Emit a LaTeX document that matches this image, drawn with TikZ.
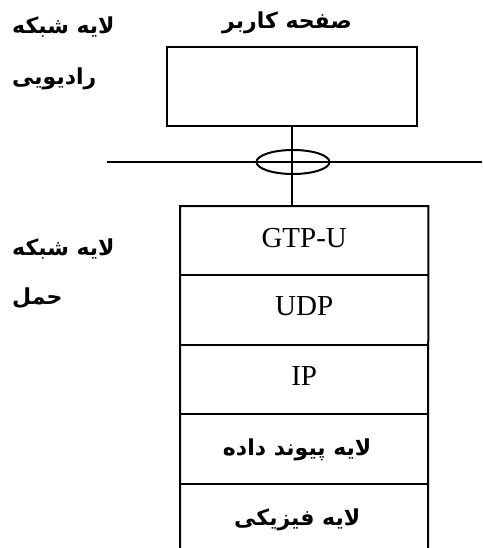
\documentclass[tikz,border=0pt]{standalone}
\usepackage{fontspec}
\setmainfont{Liberation Serif}
\newfontfamily\fa[Script=Arabic]{DejaVu Sans}
\TeXXeTstate=1
\usetikzlibrary{shapes.geometric,calc}
\begin{document}
\begin{tikzpicture}[x=1pt,y=-1pt,
  ln/.style={line width=2pt},
  fatext/.style={font=\fa\bfseries\fontsize{22}{26}\selectfont, inner sep=0pt},
  entext/.style={font=\fontsize{29}{32}\selectfont, inner sep=0pt},
  layer/.style={minimum width=248pt, minimum height=69pt, inner sep=0pt}]
\useasboundingbox (0,0) rectangle (482,548);
% top box
\node[draw, ln, minimum width=250pt, minimum height=79pt, anchor=north west, inner sep=0pt] (up) at (166,46) {};
\node[fatext] (uptitle) at (287,23) {\beginR صفحه کاربر\endR};
% left labels
\node[fatext, anchor=west] (rad1) at (12,27) {\beginR لایه شبکه\endR};
\node[fatext, anchor=west] (rad2) at (12,79) {\beginR رادیویی\endR};
\node[fatext, anchor=west] (tr1) at (12,249) {\beginR لایه شبکه\endR};
\node[fatext, anchor=west] (tr2) at (12,298) {\beginR حمل\endR};
% stack layers
\node[layer, anchor=north west] (r1) at (180,206) {};
\node[layer, anchor=north] (r2) at (r1.south) {};
\node[layer, anchor=north] (r3) at (r2.south) {};
\node[layer, anchor=north] (r4) at (r3.south) {};
\node[layer, anchor=north] (r5) at (r4.south) {};
\node[entext] (t1) at ($(r1.center)+(0,-3)$) {GTP-U};
\node[entext] (t2) at ($(r2.center)+(0,-4)$) {UDP};
\node[entext] (t3) at ($(r3.center)+(0,-3)$) {IP};
\node[fatext] (t4) at ($(r4.center)+(-7,1)$) {\beginR لایه پیوند داده\endR};
\node[fatext] (t5) at ($(r5.center)+(-7,2)$) {\beginR لایه فیزیکی\endR};
% stack frame (open at bottom)
\coordinate (bl) at (180,548);
\coordinate (br) at (428,548);
\draw[ln] (bl) -- (r1.north west) -- (r1.north east) -- (br);
\draw[ln] (r1.south west) -- (r1.south east);
\draw[ln] (r2.south west) -- (r2.south east);
\draw[ln] (r3.south west) -- (r3.south east);
\draw[ln] (r4.south west) -- (r4.south east);
% connector and interface
\coordinate (hl) at (107,162);
\coordinate (hr) at (482,162);
\draw[ln] (hl) -- (hr);
\draw[ln] (up.south) -- (up.south |- r1.north);
\node[draw, ln, ellipse, minimum width=73pt, minimum height=24pt, inner sep=0pt] (ell) at (293,162) {};
\end{tikzpicture}
\end{document}
